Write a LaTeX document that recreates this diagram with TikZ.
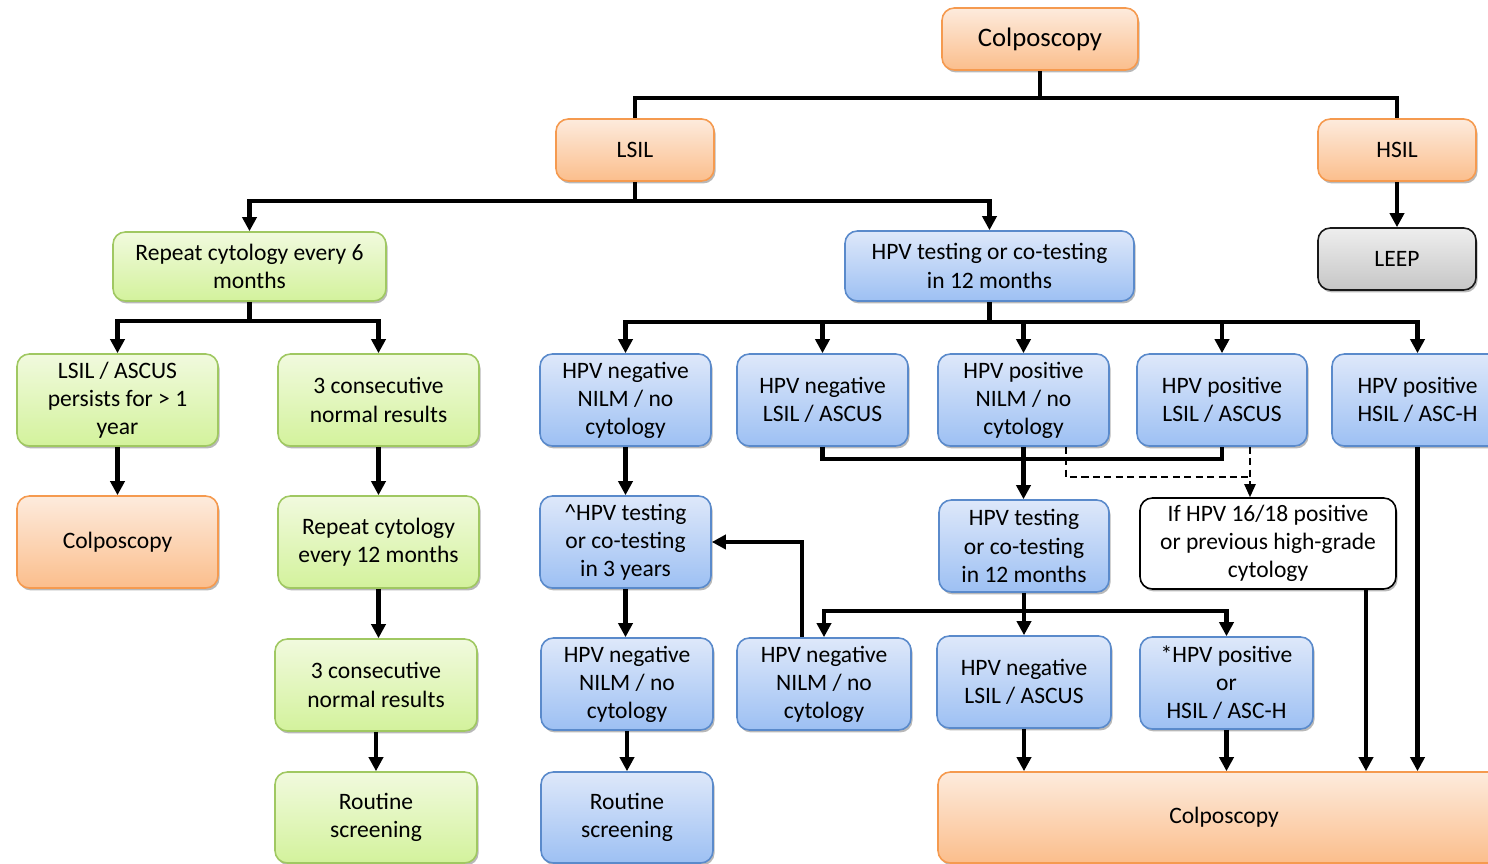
\documentclass[tikz,border=0pt]{standalone}
\usepackage{fontspec}
\setmainfont{Carlito}
\usetikzlibrary{arrows.meta,shadows}

\definecolor{orTop}{HTML}{FDEBDD}
\definecolor{orBot}{HTML}{FBBE8C}
\definecolor{orLine}{HTML}{F59A4F}
\definecolor{grTop}{HTML}{F1FADE}
\definecolor{grBot}{HTML}{D3F29C}
\definecolor{grLine}{HTML}{A0C862}
\definecolor{blTop}{HTML}{DEE8FA}
\definecolor{blBot}{HTML}{9DC0F3}
\definecolor{blLine}{HTML}{5A8ACB}
\definecolor{gyTop}{HTML}{EEEEEE}
\definecolor{gyBot}{HTML}{C6C6C6}

\tikzset{
  box/.style={draw, rounded corners=7pt, line width=0.9pt, align=center,
    inner sep=2pt, font=\fontsize{13.4}{16}\selectfont,
    drop shadow={shadow xshift=0.9pt, shadow yshift=-1.4pt, opacity=0.28, fill=black}},
  sz/.style 2 args={minimum width=#1*0.02cm, minimum height=#2*0.02cm},
  obox/.style={box, draw=orLine, top color=orTop, bottom color=orBot},
  gbox/.style={box, draw=grLine, top color=grTop, bottom color=grBot},
  bbox/.style={box, draw=blLine, top color=blTop, bottom color=blBot},
  ybox/.style={box, draw=black!90, top color=gyTop, bottom color=gyBot},
  wbox/.style={box, draw=black, fill=white},
  conn/.style={line width=2.4pt},
  arr/.style={conn, -{Triangle[width=8pt,length=8pt]}},
  dline/.style={line width=0.9pt, dash pattern=on 4pt off 2.5pt},
  darr/.style={dline, -{Triangle[width=6.5pt,length=7.5pt]}},
}

\begin{document}
\begin{tikzpicture}[x=0.02cm, y=0.02cm]
\useasboundingbox (0,0) rectangle (1488,-864);

% top levels
\node[obox, sz={196}{62}, font=\fontsize{15.2}{18}\selectfont] (c0) at (1040,-39) {Colposcopy};
\node[obox, sz={158}{62}] (lsil) at (635,-150) {LSIL};
\node[obox, sz={158}{62}] (hsil) at (1397,-150) {HSIL};
\node[ybox, sz={158}{62}] (leep) at (1397,-259) {LEEP};
\node[gbox, sz={273}{69}] (rep6) at (249.5,-266.5) {Repeat cytology every 6\\months};
\node[bbox, sz={289}{70}] (hpt) at (989.5,-266) {HPV testing or co-testing\\in 12 months};

% third row
\node[gbox, sz={201}{92}] (r3a) at (117.5,-400) {LSIL / ASCUS\\persists for > 1\\year};
\node[gbox, sz={201}{92}] (r3b) at (378.5,-400) {3 consecutive\\normal results};
\node[bbox, sz={171}{92}] (r3c) at (625.5,-400) {HPV negative\\NILM / no\\cytology};
\node[bbox, sz={171}{92}] (r3d) at (822.5,-400) {HPV negative\\LSIL / ASCUS};
\node[bbox, sz={171}{92}] (r3e) at (1023.5,-400) {HPV positive\\NILM / no\\cytology};
\node[bbox, sz={170}{92}] (r3f) at (1222,-400) {HPV positive\\LSIL / ASCUS};
\node[bbox, sz={171}{92}] (r3g) at (1417.5,-400) {HPV positive\\HSIL / ASC-H};

% fourth row
\node[obox, sz={201}{92}] (r4a) at (117.5,-542) {Colposcopy};
\node[gbox, sz={201}{92}] (r4b) at (378.5,-542) {Repeat cytology\\every 12 months};
\node[bbox, sz={171}{92}] (r4c) at (625.5,-542) {\textasciicircum HPV testing\\or co-testing\\in 3 years};
\node[bbox, sz={170}{92}] (r4e) at (1024,-546) {HPV testing\\or co-testing\\in 12 months};
\node[wbox, sz={256}{91}] (r4f) at (1268,-543.5) {If HPV 16/18 positive\\or previous high-grade\\cytology};

% fifth row
\node[gbox, sz={202}{92}] (r5b) at (376,-685) {3 consecutive\\normal results};
\node[bbox, sz={172}{92}] (r5c) at (627,-684) {HPV negative\\NILM / no\\cytology};
\node[bbox, sz={174}{92}] (r5d) at (824,-684) {HPV negative\\NILM / no\\cytology};
\node[bbox, sz={174}{92}] (r5e) at (1024,-682) {HPV negative\\LSIL / ASCUS};
\node[bbox, sz={173}{92}] (r5f) at (1226.5,-683) {*HPV positive\\or\\HSIL / ASC-H};

% bottom row
\node[gbox, sz={202}{91}] (r6b) at (376,-817.5) {Routine\\screening};
\node[bbox, sz={172}{91}] (r6c) at (627,-817.5) {Routine\\screening};
\node[obox, sz={572}{91}] (big) at (1224,-817.5) {Colposcopy};

% junctions of the branching lines
\coordinate (j0) at (1040,-98);
\coordinate (j1) at (635,-201);
\coordinate (j2) at (249.5,-321);
\coordinate (j3) at (989.5,-322);
\coordinate (j4) at (1024,-611);
\coordinate (dj) at (1250,-477);

% connectors
\draw[conn] (c0.south) -- (j0);
\draw[conn] (lsil.north) |- (j0) -| (hsil.north);
\draw[conn] (lsil.south) -- (j1);
\draw[arr] (j1) -| (rep6.north);
\draw[arr] (j1) -| (hpt.north);
\draw[arr] (hsil.south) -- (leep.north);

\draw[conn] (rep6.south) -- (j2);
\draw[arr] (j2) -| (r3a.north);
\draw[arr] (j2) -| (r3b.north);

\draw[conn] (hpt.south) -- (j3);
\foreach \n in {r3c,r3d,r3e,r3f,r3g}
  \draw[arr] (j3) -| (\n.north);

\draw[arr] (r3a.south) -- (r4a.north);
\draw[arr] (r3b.south) -- (r4b.north);
\draw[arr] (r4b.south) -- (r4b.south |- r5b.north);
\draw[arr] (r5b.south) -- (r6b.north);

\draw[arr] (r3c.south) -- (r4c.north);
\draw[arr] (r4c.south) -- (r4c.south |- r5c.north);
\draw[arr] (r5c.south) -- (r6c.north);

\draw[conn] (r3d.south) -- ++(0,-12) -| (r3f.south);
\draw[arr] (r3e.south) -- (r3e.south |- r4e.north);
\draw[dline] ([xshift=0.85cm]r3e.south) |- (dj);
\draw[darr] ([xshift=0.56cm]r3f.south) -- ([xshift=0.56cm]r3f.south |- r4f.north);

\draw[conn] (r4e.south) -- (j4);
\draw[arr] (j4) -| (r5d.north);
\draw[arr] (j4) -| (r5e.north);
\draw[arr] (j4) -| (r5f.north);
\draw[arr] ([xshift=-0.44cm]r5d.north) |- (r4c.east);

\draw[arr] (r5e.south) -- (r5e.south |- big.north);
\draw[arr] (r5f.south) -- (r5f.south |- big.north);
\draw[arr] ([xshift=1.96cm]r4f.south) -- ([xshift=1.96cm]r4f.south |- big.north);
\draw[arr] (r3g.south) -- (r3g.south |- big.north);
\end{tikzpicture}
\end{document}
